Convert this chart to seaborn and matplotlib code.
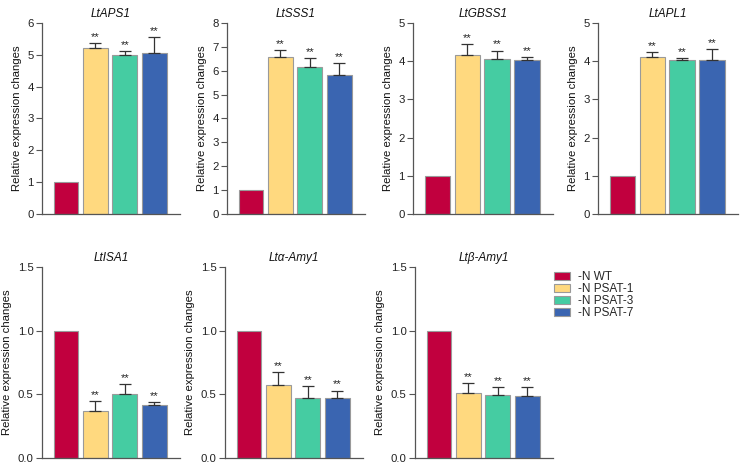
import numpy as np
import pandas as pd
import matplotlib
matplotlib.use("Agg")
import matplotlib.pyplot as plt
import seaborn as sns
from matplotlib.patches import Patch

sns.set_style("ticks")
plt.rcParams['font.family'] = ['Liberation Sans', 'DejaVu Sans']

groups = ["-N WT", "-N PSAT-1", "-N PSAT-3", "-N PSAT-7"]
colors = ["#C1003E", "#FFD97F", "#45CCA2", "#3A65B1"]

genes = ["LtAPS1", "LtSSS1", "LtGBSS1", "LtAPL1", "LtISA1", "Ltα-Amy1", "Ltβ-Amy1"]
means = {
    "LtAPS1": [1.0, 5.23, 4.99, 5.05],
    "LtSSS1": [1.0, 6.59, 6.16, 5.83],
    "LtGBSS1": [1.0, 4.15, 4.07, 4.03],
    "LtAPL1": [1.0, 4.11, 4.02, 4.04],
    "LtISA1": [1.0, 0.37, 0.50, 0.415],
    "Ltα-Amy1": [1.0, 0.57, 0.47, 0.47],
    "Ltβ-Amy1": [1.0, 0.51, 0.495, 0.49],
}
errors = {
    "LtAPS1": [0.0, 0.14, 0.14, 0.52],
    "LtSSS1": [0.0, 0.29, 0.36, 0.48],
    "LtGBSS1": [0.0, 0.29, 0.21, 0.08],
    "LtAPL1": [0.0, 0.14, 0.07, 0.27],
    "LtISA1": [0.0, 0.075, 0.08, 0.027],
    "Ltα-Amy1": [0.0, 0.105, 0.095, 0.06],
    "Ltβ-Amy1": [0.0, 0.08, 0.065, 0.065],
}
stars = ["", "**", "**", "**"]
ymax = {"LtAPS1": 6, "LtSSS1": 8, "LtGBSS1": 5, "LtAPL1": 5,
        "LtISA1": 1.5, "Ltα-Amy1": 1.5, "Ltβ-Amy1": 1.5}
yticks = {"LtAPS1": [0, 1, 2, 3, 4, 5, 6], "LtSSS1": list(range(9)),
          "LtGBSS1": list(range(6)), "LtAPL1": list(range(6)),
          "LtISA1": [0.0, 0.5, 1.0, 1.5], "Ltα-Amy1": [0.0, 0.5, 1.0, 1.5],
          "Ltβ-Amy1": [0.0, 0.5, 1.0, 1.5]}

W, H = 743, 466
fig = plt.figure(figsize=(W / 100, H / 100), dpi=100)

# pixel boxes: (left, top, right, bottom)
boxes = [
    (42, 23, 180, 214), (227, 23, 365, 214), (413, 23, 553, 214), (598, 23, 738, 214),
    (42, 267, 180, 458), (225, 267, 363, 458), (415, 267, 553, 458),
]

axis_col = "#555555"
for gene, (l, t, r, b) in zip(genes, boxes):
    ax = fig.add_axes([l / W, 1 - b / H, (r - l) / W, (b - t) / H])
    df = pd.DataFrame({"group": groups, "value": means[gene]})
    sns.barplot(data=df, x="group", y="value", hue="group", palette=colors,
                order=groups, hue_order=groups, width=0.84, legend=False,
                saturation=1, edgecolor="#9a9a9a", linewidth=0.8, ax=ax,
                errorbar=None)
    x = np.arange(len(groups))
    m = np.array(means[gene])
    e = np.array(errors[gene])
    mask = e > 0
    ax.errorbar(x[mask], m[mask], yerr=[np.zeros(mask.sum()), e[mask]],
                fmt="none", ecolor="#333333", elinewidth=0.9, capsize=4.5,
                capthick=0.9)
    yr = ymax[gene]
    for xi, mi, ei, s in zip(x, m, e, stars):
        if s:
            ax.text(xi, mi + ei + yr * 0.005, s, ha="center", va="bottom",
                    fontsize=8, color="#222222")
    ax.set_xlim(-0.81, 3.87)
    ax.set_ylim(0, yr)
    ax.set_yticks(yticks[gene])
    if yr == 1.5:
        ax.set_yticklabels([f"{v:.1f}" for v in yticks[gene]])
    ax.set_xticks([])
    ax.set_xlabel("")
    ax.set_ylabel("Relative expression changes", fontsize=8.2, labelpad=4,
                  color="#111111")
    ax.set_title(gene, fontsize=8.5, style="italic", pad=4, color="#111111")
    ax.tick_params(axis="y", labelsize=8.2, length=4, width=0.8,
                   colors=axis_col, labelcolor="#222222", pad=2)
    for sp in ["top", "right"]:
        ax.spines[sp].set_visible(False)
    for sp in ["left", "bottom"]:
        ax.spines[sp].set_color(axis_col)
        ax.spines[sp].set_linewidth(0.9)

handles = [Patch(facecolor=c, edgecolor="#9a9a9a", linewidth=0.8, label=g)
           for g, c in zip(groups, colors)]
fig.legend(handles=handles, loc="upper left", bbox_to_anchor=(554 / W, 1 - 271 / H),
           frameon=False, fontsize=8.5, handlelength=1.35, handleheight=0.7,
           labelspacing=0.0, handletextpad=0.7, borderaxespad=0, borderpad=0)

fig.savefig("out.png", dpi=100)
